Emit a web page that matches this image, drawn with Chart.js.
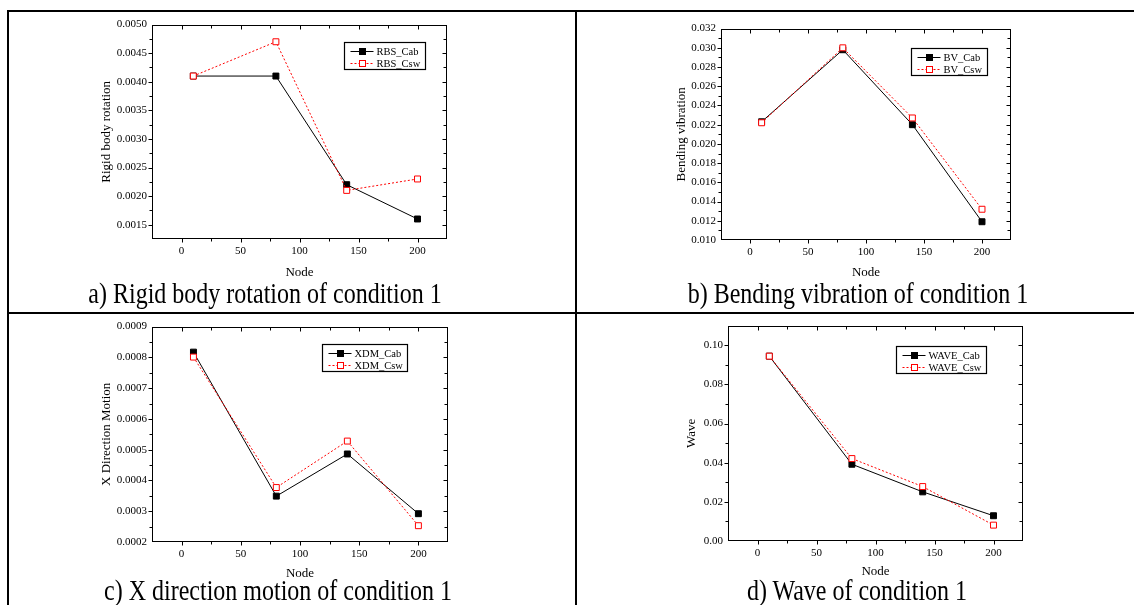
<!DOCTYPE html>
<html>
<head>
<meta charset="utf-8">
<script src="https://cdn.jsdelivr.net/npm/chart.js@4.4.0/dist/chart.umd.min.js"></script>
<style>
    html, body { margin: 0; padding: 0; background: #fff; }
    body { width: 1134px; height: 605px; position: relative; overflow: hidden; font-family: "Liberation Serif", serif; }
    .rule { position: absolute; background: #000; }
    canvas { position: absolute; }
    .caption { position: absolute; font-size: 24px; line-height: 24px; white-space: nowrap; color: #000;
               transform-origin: center 20px; transform: translateX(-50%) scaleY(1.25); }
</style>
</head>
<body>
<!-- table rules -->
<div class="rule" style="left:7px;top:10px;width:1127px;height:2px"></div>
<div class="rule" style="left:7px;top:10px;width:2px;height:595px"></div>
<div class="rule" style="left:575px;top:10px;width:2px;height:595px"></div>
<div class="rule" style="left:7px;top:312px;width:1127px;height:2px"></div>

<canvas id="chartA"></canvas>
<canvas id="chartB"></canvas>
<canvas id="chartC"></canvas>
<canvas id="chartD"></canvas>

<div class="caption" style="left:265px;top:283px">a) Rigid body rotation of condition 1</div>
<div class="caption" style="left:858px;top:283px">b) Bending vibration of condition 1</div>
<div class="caption" style="left:278px;top:580px">c) X direction motion of condition 1</div>
<div class="caption" style="left:857px;top:580px">d) Wave of condition 1</div>

<script>
// Node positions along the x axis
const nodes = [10, 80, 140, 200];
const xTickLabels = [0, 50, 100, 150, 200];

// a) Rigid body rotation
const rbsCab = [0.0041, 0.0041, 0.0022, 0.0016];
const rbsCsw = [0.0041, 0.0047, 0.0021, 0.0023];
const rbsTicks = [0.0015, 0.0020, 0.0025, 0.0030, 0.0035, 0.0040, 0.0045, 0.0050];

// b) Bending vibration
const bvCab = [0.0223, 0.0298, 0.0220, 0.0119];
const bvCsw = [0.0222, 0.0300, 0.0227, 0.0132];
const bvTicks = [0.010, 0.012, 0.014, 0.016, 0.018, 0.020, 0.022, 0.024, 0.026, 0.028, 0.030, 0.032];

// c) X direction motion
const xdmCab = [0.000817, 0.000349, 0.000486, 0.000292];
const xdmCsw = [0.000801, 0.000377, 0.000528, 0.000253];
const xdmTicks = [0.0002, 0.0003, 0.0004, 0.0005, 0.0006, 0.0007, 0.0008, 0.0009];

// d) Wave
const waveCab = [0.0944, 0.0392, 0.0251, 0.0129];
const waveCsw = [0.0944, 0.0421, 0.0278, 0.0081];
const waveTicks = [0.00, 0.02, 0.04, 0.06, 0.08, 0.10];

const FONT = '"Liberation Serif", "Times New Roman", serif';

const panels = [
    { id: 'chartA', yTitle: 'Rigid body rotation', names: ['RBS_Cab', 'RBS_Csw'], cab: rbsCab, csw: rbsCsw,
      yTicks: rbsTicks, yMin: 0.00125, yMax: 0.0050, digits: 4,
      area: { l: 152, t: 23, r: 447, b: 239 }, yTitleX: 107, xTitleY: 272, legend: { x: 344, y: 42 } },
    { id: 'chartB', yTitle: 'Bending vibration', names: ['BV_Cab', 'BV_Csw'], cab: bvCab, csw: bvCsw,
      yTicks: bvTicks, yMin: 0.010, yMax: 0.032, digits: 3,
      area: { l: 721, t: 27, r: 1011, b: 240 }, yTitleX: 682, xTitleY: 272, legend: { x: 911, y: 48 } },
    { id: 'chartC', yTitle: 'X Direction Motion', names: ['XDM_Cab', 'XDM_Csw'], cab: xdmCab, csw: xdmCsw,
      yTicks: xdmTicks, yMin: 0.0002, yMax: 0.0009, digits: 4,
      area: { l: 152, t: 325, r: 448, b: 542 }, yTitleX: 107, xTitleY: 573, legend: { x: 322, y: 344 } },
    { id: 'chartD', yTitle: 'Wave', names: ['WAVE_Cab', 'WAVE_Csw'], cab: waveCab, csw: waveCsw,
      yTicks: waveTicks, yMin: 0.00, yMax: 0.11, digits: 2,
      area: { l: 728, t: 324, r: 1023, b: 541 }, yTitleX: 692, xTitleY: 571, legend: { x: 896, y: 346 } },
];

// Majors plus half-step minors spanning [min, max]
function withMinors(majors, min, max) {
    const h = (majors[1] - majors[0]) / 2;
    const eps = h / 1000;
    let v = majors[0];
    while (v - h >= min - eps) v -= h;
    const out = [];
    for (; v <= max + eps; v += h) out.push(+v.toFixed(10));
    return out;
}

function isMajor(v, majors) {
    return majors.some(m => Math.abs(m - v) < 1e-9);
}

// Plot frame with mirrored ticks (outward on left/bottom, inward on top/right)
const framePlugin = {
    id: 'frame',
    afterDraw(chart, args, opts) {
        const { ctx, chartArea: a, scales: { x, y } } = chart;
        const L = Math.round(a.left) + 0.5, R = Math.round(a.right) - 0.5;
        const T = Math.round(a.top) + 0.5, B = Math.round(a.bottom) - 0.5;
        ctx.save();
        ctx.strokeStyle = '#000';
        ctx.lineWidth = 1;
        ctx.strokeRect(L, T, R - L, B - T);
        ctx.beginPath();
        x.ticks.forEach(t => {
            const px = Math.round(x.getPixelForValue(t.value)) + 0.5;
            if (px <= L + 1 || px >= R - 1) return;
            const len = isMajor(t.value, opts.xMajors) ? 4 : 3;
            ctx.moveTo(px, B); ctx.lineTo(px, B + len);
            ctx.moveTo(px, T); ctx.lineTo(px, T + len);
        });
        y.ticks.forEach(t => {
            const py = Math.round(y.getPixelForValue(t.value)) + 0.5;
            if (py <= T + 1 || py >= B - 1) return;
            const len = isMajor(t.value, opts.yMajors) ? 4 : 3;
            ctx.moveTo(L, py); ctx.lineTo(L - len, py);
            ctx.moveTo(R, py); ctx.lineTo(R - len, py);
        });
        ctx.stroke();
        ctx.restore();
    }
};

// Boxed legend inside the plot, line sample with marker
const boxLegendPlugin = {
    id: 'boxLegend',
    afterDraw(chart, args, opts) {
        const { ctx } = chart;
        const sets = chart.data.datasets.slice().sort((p, q) => p.legendIndex - q.legendIndex);
        ctx.save();
        ctx.font = '10.5px ' + FONT;
        const tw = Math.max(...sets.map(d => ctx.measureText(d.label).width));
        const left = Math.round(opts.x) + 0.5, top = Math.round(opts.y) + 0.5;
        const w = Math.round(32 + tw + 5), h = 27;
        ctx.fillStyle = '#fff';
        ctx.fillRect(left, top, w, h);
        ctx.strokeStyle = '#000';
        ctx.lineWidth = 1.2;
        ctx.strokeRect(left, top, w, h);
        sets.forEach((d, i) => {
            const cy = Math.round(top + 8 + i * 12) + 0.5;
            ctx.strokeStyle = d.borderColor;
            ctx.lineWidth = 1;
            ctx.setLineDash(d.borderDash || []);
            ctx.beginPath();
            ctx.moveTo(left + 6, cy); ctx.lineTo(left + 29, cy);
            ctx.stroke();
            ctx.setLineDash([]);
            ctx.fillStyle = d.pointBackgroundColor;
            ctx.fillRect(left + 15, cy - 3, 6, 6);
            ctx.strokeStyle = d.pointBorderColor;
            ctx.strokeRect(left + 15, cy - 3, 6, 6);
            ctx.fillStyle = '#000';
            ctx.textBaseline = 'middle';
            ctx.fillText(d.label, left + 32, cy + 0.5);
        });
        ctx.restore();
    }
};

panels.forEach(p => {
    const canvas = document.getElementById(p.id);
    const cLeft = Math.round(p.yTitleX - 8);
    const cTop = p.area.t - 10;
    const cRight = p.area.r + 20;
    const cBottom = Math.round(p.xTitleY + 8);
    canvas.width = cRight - cLeft;
    canvas.height = cBottom - cTop;
    canvas.style.left = cLeft + 'px';
    canvas.style.top = cTop + 'px';

    const xAll = withMinors(xTickLabels, -25, 225);
    const yAll = withMinors(p.yTicks, p.yMin, p.yMax);

    new Chart(canvas.getContext('2d'), {
        type: 'line',
        data: {
            datasets: [
                {
                    label: p.names[1],
                    data: nodes.map((n, i) => ({ x: n, y: p.csw[i] })),
                    borderColor: '#ff0000',
                    borderWidth: 1,
                    borderDash: [2, 2],
                    pointStyle: 'rect',
                    pointRadius: 4.2,
                    pointBorderWidth: 1,
                    pointBackgroundColor: '#ffffff',
                    pointBorderColor: '#ff0000',
                    tension: 0,
                    order: 0,
                    legendIndex: 1,
                },
                {
                    label: p.names[0],
                    data: nodes.map((n, i) => ({ x: n, y: p.cab[i] })),
                    borderColor: '#000000',
                    borderWidth: 1,
                    pointStyle: 'rect',
                    pointRadius: 4.2,
                    pointBorderWidth: 1,
                    pointBackgroundColor: '#000000',
                    pointBorderColor: '#000000',
                    tension: 0,
                    order: 1,
                    legendIndex: 0,
                },
            ],
        },
        options: {
            responsive: false,
            animation: false,
            devicePixelRatio: 1,
            events: [],
            layout: { padding: { left: 0, top: 10, right: 20, bottom: 0 } },
            plugins: {
                legend: { display: false },
                tooltip: { enabled: false },
                frame: { xMajors: xTickLabels, yMajors: p.yTicks },
                boxLegend: { x: p.legend.x - cLeft, y: p.legend.y - cTop },
            },
            scales: {
                x: {
                    type: 'linear',
                    min: -25,
                    max: 225,
                    afterBuildTicks: s => { s.ticks = xAll.map(v => ({ value: v })); },
                    afterFit: s => { s.height = cBottom - p.area.b; },
                    grid: { display: false, drawTicks: false },
                    border: { display: false },
                    ticks: {
                        autoSkip: false,
                        maxRotation: 0,
                        padding: 6,
                        color: '#000',
                        font: { family: FONT, size: 11 },
                        callback: v => isMajor(v, xTickLabels) ? String(v) : '',
                    },
                    title: { display: true, text: 'Node', color: '#000', padding: 0, font: { family: FONT, size: 13 } },
                },
                y: {
                    type: 'linear',
                    min: p.yMin,
                    max: p.yMax,
                    afterBuildTicks: s => { s.ticks = yAll.map(v => ({ value: v })); },
                    afterFit: s => { s.width = p.area.l - cLeft; },
                    grid: { display: false, drawTicks: false },
                    border: { display: false },
                    ticks: {
                        autoSkip: false,
                        padding: 5,
                        color: '#000',
                        font: { family: FONT, size: 11 },
                        callback: v => isMajor(v, p.yTicks) ? v.toFixed(p.digits) : '',
                    },
                    title: { display: true, text: p.yTitle, color: '#000', padding: 0, font: { family: FONT, size: 13 } },
                },
            },
        },
        plugins: [framePlugin, boxLegendPlugin],
    });
});
</script>
</body>
</html>
